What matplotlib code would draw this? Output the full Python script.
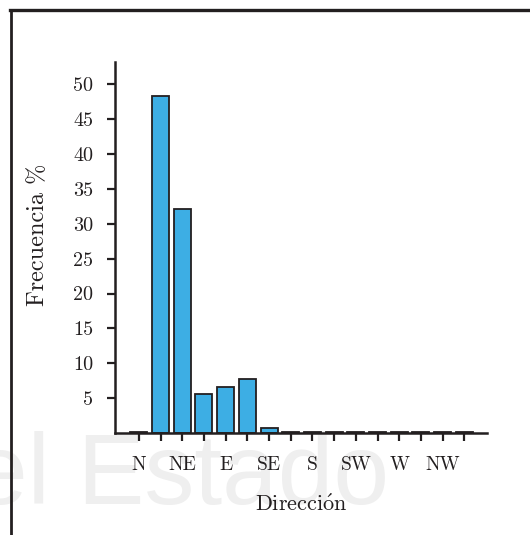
import matplotlib.pyplot as plt
from matplotlib.lines import Line2D

# Wind direction frequencies (%)
directions = ['N', 'NNE', 'NE', 'ENE', 'E', 'ESE', 'SE', 'SSE',
              'S', 'SSW', 'SW', 'WSW', 'W', 'WNW', 'NW', 'NNW']
frequency = [0.1, 48.4, 32.1, 5.6, 6.6, 7.7, 0.7, 0.1,
             0.1, 0.1, 0.1, 0.1, 0.1, 0.1, 0.1, 0.1]
y_ticks = [5, 10, 15, 20, 25, 30, 35, 40, 45, 50]

plt.rcParams['font.family'] = 'serif'
plt.rcParams['font.serif'] = ['cmr10', 'DejaVu Serif']
plt.rcParams['mathtext.fontset'] = 'cm'
plt.rcParams['axes.unicode_minus'] = False

fig = plt.figure(figsize=(5.3, 5.35), dpi=100)

# watermark behind everything
fig.text(-0.052, 0.058, 'el Estado', fontsize=72, family='Liberation Sans',
         color='#efefef', zorder=-10)

# frame lines (top and left)
fig.add_artist(Line2D([0.019, 1.0], [0.982, 0.982], color='#231f20', lw=2.4,
                      transform=fig.transFigure))
fig.add_artist(Line2D([0.021, 0.021], [0.0, 0.982], color='#231f20', lw=2.0,
                      transform=fig.transFigure))

ax = fig.add_axes([0.217, 0.1907, 0.702, 0.6933])
ax.patch.set_alpha(0)

x = list(range(len(directions)))
ax.bar(x, frequency, width=0.78, color='#3daee4', edgecolor='#231f20', linewidth=1.3)

ax.set_xlim(-1.1, 16.05)
ax.set_ylim(0, 53.2)
# main points labelled, intermediate ones only ticked
ax.set_xticks(x[::2])
ax.set_xticklabels(directions[::2], fontsize=14)
ax.set_xticks(x[1::2], minor=True)
ax.set_yticks(y_ticks)
ax.set_yticklabels([str(v) for v in y_ticks], fontsize=14.5)

for side in ['top', 'right']:
    ax.spines[side].set_visible(False)
for side in ['left', 'bottom']:
    ax.spines[side].set_linewidth(1.8)
    ax.spines[side].set_color('#231f20')

ax.tick_params(axis='both', which='both', direction='out', length=5.5, width=1.6,
               color='#231f20', labelcolor='#231f20')
ax.tick_params(axis='x', pad=11)
ax.tick_params(axis='y', pad=10)

ax.set_xlabel(r'Direcci$\mathrm{\acute{o}}$n', fontsize=16, color='#231f20')
ax.set_ylabel('Frecuencia %', fontsize=17.5, color='#231f20')
ax.xaxis.set_label_coords(0.5, -0.165)
ax.yaxis.set_label_coords(-0.178, 0.535)

fig.savefig('out.png', dpi=100)
